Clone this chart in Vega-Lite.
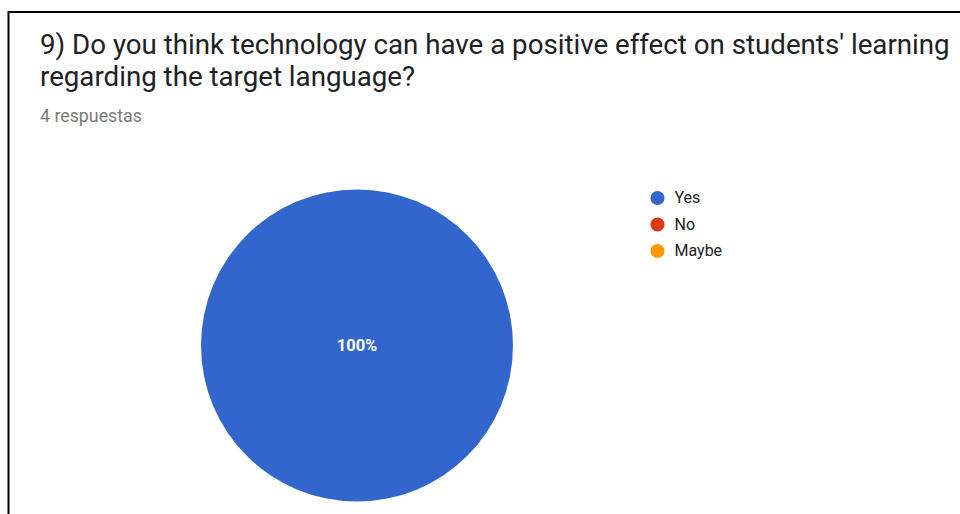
{
  "$schema": "https://vega.github.io/schema/vega-lite/v6.json",
  "autosize": {"type": "none"},
  "width": 960,
  "height": 510,
  "padding": {"left": 8.5, "top": 12, "right": 0, "bottom": 0},
  "background": "white",
  "view": {"stroke": "black", "strokeWidth": 2},
  "config": {
    "view": {"stroke": "black", "strokeWidth": 2},
    "font": "Roboto"
  },
  "title": {
    "text": ["9) Do you think technology can have a positive effect on students' learning", "regarding the target language?"],
    "subtitle": "4 respuestas",
    "anchor": "start",
    "frame": "group",
    "orient": "top",
    "baseline": "top",
    "dx": 31.5,
    "dy": 117.5,
    "font": "Roboto",
    "fontSize": 27.7,
    "fontWeight": "normal",
    "color": "#202124",
    "lineHeight": 32,
    "subtitleFont": "Roboto",
    "subtitleFontSize": 17.8,
    "subtitleColor": "#7a7a7a",
    "subtitlePadding": 16
  },
  "data": {
    "values": [
      {"answer": "Yes", "count": 4, "share": 1.0},
      {"answer": "No", "count": 0, "share": 0.0},
      {"answer": "Maybe", "count": 0, "share": 0.0}
    ]
  },
  "layer": [
    {
      "mark": {"type": "arc", "outerRadius": 156, "x": 348.5, "y": 333.5},
      "encoding": {
        "theta": {"field": "count", "type": "quantitative", "stack": true},
        "color": {
          "field": "answer",
          "type": "nominal",
          "sort": ["Yes", "No", "Maybe"],
          "scale": {"domain": ["Yes", "No", "Maybe"], "range": ["#3366cc", "#dc3912", "#ff9900"]},
          "legend": {
            "title": null,
            "orient": "none",
            "legendX": 641,
            "legendY": 178,
            "symbolType": "circle",
            "symbolSize": 200,
            "symbolStrokeWidth": 0,
            "labelFont": "Roboto",
            "labelFontSize": 16,
            "labelColor": "#222222",
            "labelOffset": 9,
            "rowPadding": 10.5
          }
        }
      }
    },
    {
      "transform": [{"filter": "datum.count > 0"}],
      "mark": {"type": "text", "x": 348.5, "y": 333.5, "color": "white", "fontSize": 16.5, "fontWeight": "bold", "font": "Roboto", "align": "center", "baseline": "middle"},
      "encoding": {
        "text": {"field": "share", "type": "quantitative", "format": ".0%"}
      }
    }
  ]
}
